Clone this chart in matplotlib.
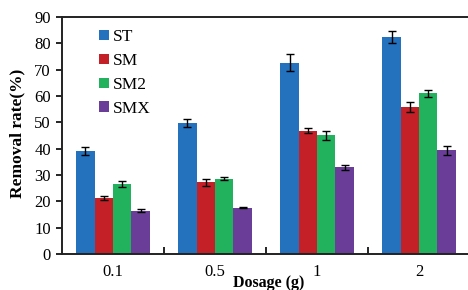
import matplotlib.pyplot as plt
import numpy as np

plt.rcParams['font.family'] = ['Liberation Serif', 'DejaVu Serif']

dosages = ["0.1", "0.5", "1", "2"]
series = ["ST", "SM", "SM2", "SMX"]
st = [39.1, 49.9, 72.7, 82.5]
sm = [21.3, 27.2, 46.8, 55.7]
sm2 = [26.5, 28.6, 45.1, 61.0]
smx = [16.5, 17.6, 32.9, 39.5]
st_err = [1.5, 1.5, 3.3, 2.2]
sm_err = [0.7, 1.2, 1.0, 1.9]
sm2_err = [1.1, 0.5, 1.8, 1.3]
smx_err = [0.6, 0.3, 0.95, 1.7]
colors = ["#2471bd", "#c32028", "#22b25e", "#6a3e98"]

values = [st, sm, sm2, smx]
errors = [st_err, sm_err, sm2_err, smx_err]

fig = plt.figure(figsize=(4.68, 2.90), dpi=100)
ax = fig.add_axes([0.1325, 0.124, 0.872, 0.817])

x = np.arange(len(dosages))
w = 0.18
for i, (name, vals, errs, c) in enumerate(zip(series, values, errors, colors)):
    ax.bar(x + (i - 1.5) * w, vals, w, color=c, label=name,
           yerr=errs, capsize=3,
           error_kw=dict(ecolor="black", elinewidth=1, capthick=1))

ax.set_xlim(-0.5, 3.5)
ax.set_ylim(0, 90)
ax.set_yticks(range(0, 91, 10))
ax.set_xticks(x)
ax.set_xticklabels(dosages, fontsize=12)
ax.set_xticks([0.5, 1.5, 2.5], minor=True)
ax.tick_params(axis="x", which="major", length=0, pad=7)
ax.tick_params(axis="x", which="minor", direction="in", length=5, width=1.2)
ax.tick_params(axis="y", direction="out", length=4, labelsize=12, width=1.2, pad=4)
for s in ax.spines.values():
    s.set_linewidth(1.4)
    s.set_color("#222222")

ax.set_ylabel("Removal rate(%)", fontsize=12.5, fontweight="bold")
ax.yaxis.set_label_coords(-0.09, 0.51)
ax.set_xlabel("Dosage (g)", fontsize=11.5, fontweight="bold")
ax.xaxis.set_label_coords(0.507, -0.088)
ax.xaxis.label.set_va("top")

ax.legend(loc="upper left", bbox_to_anchor=(0.062, 1.0), frameon=False,
          fontsize=12.5, handlelength=0.55, handleheight=0.55,
          handletextpad=0.25, labelspacing=0.45, borderaxespad=0.3)

fig.savefig("out.png", dpi=100)
